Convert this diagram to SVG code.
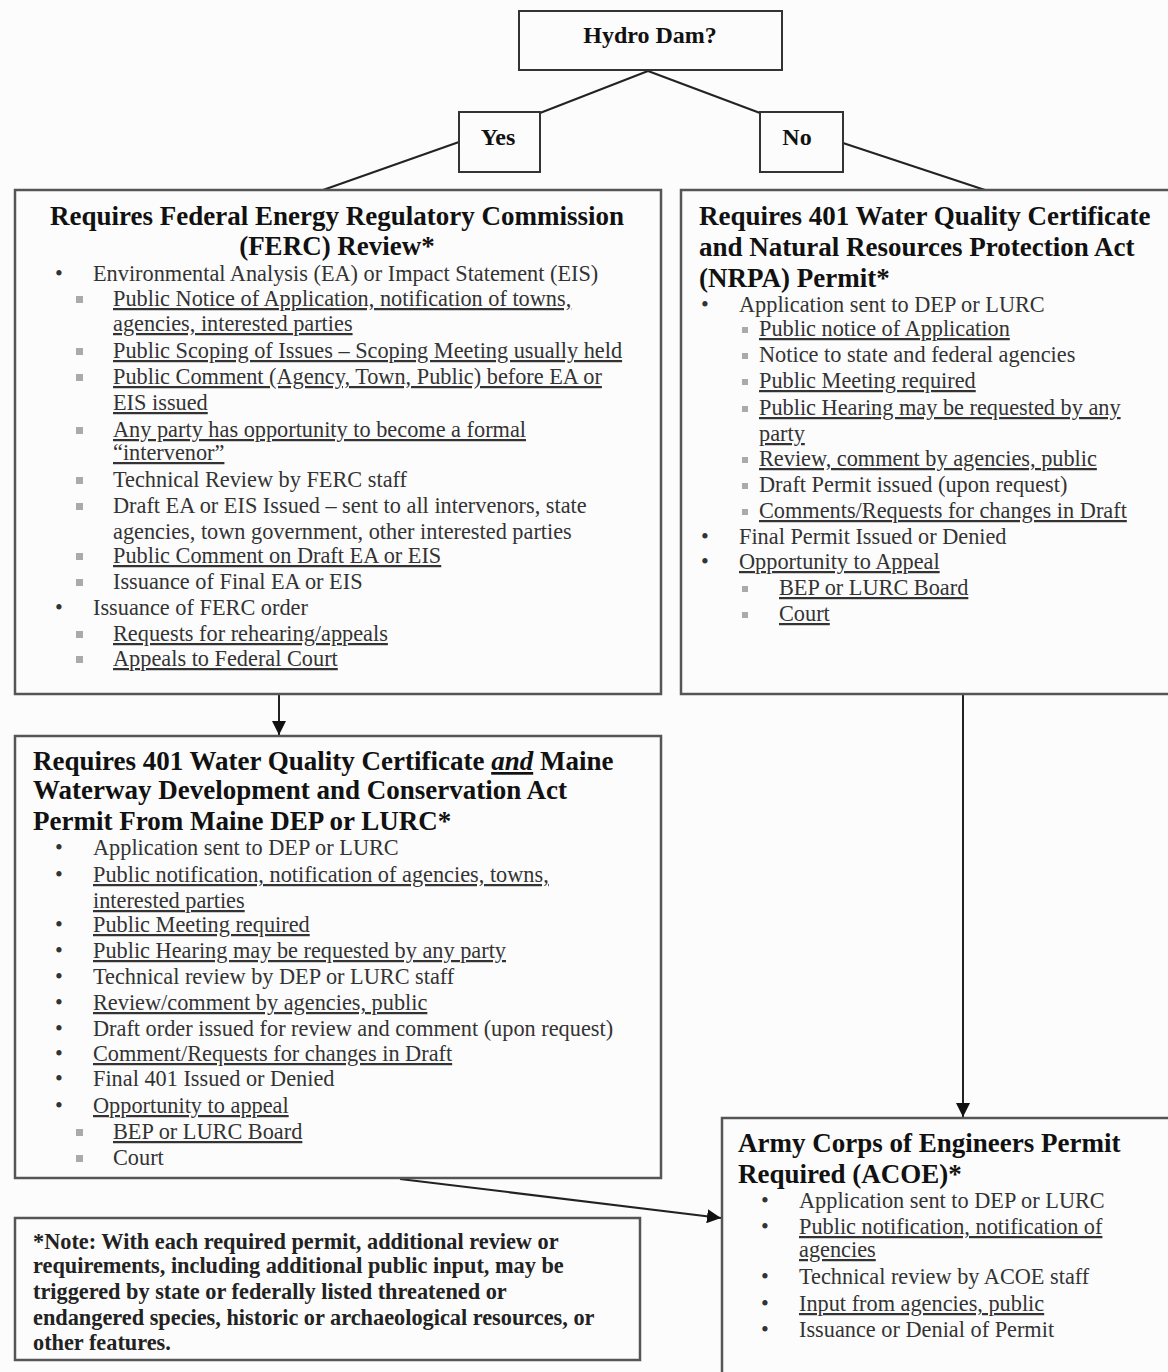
<svg xmlns="http://www.w3.org/2000/svg" width="1168" height="1372" viewBox="0 0 1168 1372">
<style>
.bg{fill:#fcfcfc}
.box{fill:#fcfcfc;stroke:#555;stroke-width:2.5}
.lbl{fill:#fcfcfc;stroke:#333;stroke-width:2}
.ttl{font-family:"Liberation Serif","Times New Roman",serif;font-weight:bold;font-size:27px;fill:#111}
.sm{font-size:24px}
.t{font-family:"Liberation Serif","Times New Roman",serif;font-size:22.3px;fill:#333}
.u{text-decoration:underline}
.note{font-family:"Liberation Serif","Times New Roman",serif;font-weight:bold;font-size:22.3px;fill:#222}
.sq{fill:#aaa}
.con{stroke:#222;stroke-width:2;fill:none}
</style>
<defs>
<marker id="ah2" viewBox="0 0 10 10" refX="10" refY="5" markerWidth="14" markerHeight="14" orient="auto" markerUnits="userSpaceOnUse">
<path d="M0,0 L10,5 L0,10 z" fill="#111"/>
</marker>
</defs>
<rect class="bg" x="0" y="0" width="1168" height="1372"/>

<g id="connectors">
<line class="con" x1="648" y1="71" x2="540" y2="113"/>
<line class="con" x1="648" y1="71" x2="760" y2="113"/>
<line class="con" x1="459" y1="142" x2="323" y2="190"/>
<line class="con" x1="843" y1="143" x2="985" y2="190"/>
<line class="con" x1="279" y1="695" x2="279" y2="735" marker-end="url(#ah2)"/>
<line class="con" x1="963" y1="695" x2="963" y2="1117" marker-end="url(#ah2)"/>
<line class="con" x1="400" y1="1179" x2="721" y2="1218" marker-end="url(#ah2)"/>
</g>

<g id="hydro">
<rect class="lbl" x="519" y="11" width="263" height="59"/>
<text class="ttl sm" x="650" y="43" text-anchor="middle">Hydro Dam?</text>
</g>
<g id="yes">
<rect class="lbl" x="459" y="112" width="81" height="60"/>
<text class="ttl sm" x="498" y="145" text-anchor="middle">Yes</text>
</g>
<g id="no">
<rect class="lbl" x="760" y="112" width="83" height="60"/>
<text class="ttl sm" x="797" y="145" text-anchor="middle">No</text>
</g>

<g id="ferc">
<rect class="box" x="15" y="190" width="646" height="504"/>
<text class="ttl" x="337" y="225" text-anchor="middle">Requires Federal Energy Regulatory Commission</text>
<text class="ttl" x="337" y="255" text-anchor="middle">(FERC) Review*</text>
<text class="t" x="55" y="281">•</text>
<text class="t" x="93" y="281">Environmental Analysis (EA) or Impact Statement (EIS)</text>
<rect class="sq" x="76" y="296" width="7" height="7"/>
<text class="t u" x="113" y="306">Public Notice of Application, notification of towns,</text>
<text class="t u" x="113" y="331">agencies, interested parties</text>
<rect class="sq" x="76" y="348" width="7" height="7"/>
<text class="t u" x="113" y="358">Public Scoping of Issues – Scoping Meeting usually held</text>
<rect class="sq" x="76" y="374" width="7" height="7"/>
<text class="t u" x="113" y="384">Public Comment (Agency, Town, Public) before EA or</text>
<text class="t u" x="113" y="410">EIS issued</text>
<rect class="sq" x="76" y="427" width="7" height="7"/>
<text class="t u" x="113" y="437">Any party has opportunity to become a formal</text>
<text class="t u" x="113" y="460">“intervenor”</text>
<rect class="sq" x="76" y="477" width="7" height="7"/>
<text class="t" x="113" y="487">Technical Review by FERC staff</text>
<rect class="sq" x="76" y="503" width="7" height="7"/>
<text class="t" x="113" y="513">Draft EA or EIS Issued – sent to all intervenors, state</text>
<text class="t" x="113" y="539">agencies, town government, other interested parties</text>
<rect class="sq" x="76" y="553" width="7" height="7"/>
<text class="t u" x="113" y="563">Public Comment on Draft EA or EIS</text>
<rect class="sq" x="76" y="579" width="7" height="7"/>
<text class="t" x="113" y="589">Issuance of Final EA or EIS</text>
<text class="t" x="55" y="615">•</text>
<text class="t" x="93" y="615">Issuance of FERC order</text>
<rect class="sq" x="76" y="631" width="7" height="7"/>
<text class="t u" x="113" y="641">Requests for rehearing/appeals</text>
<rect class="sq" x="76" y="656" width="7" height="7"/>
<text class="t u" x="113" y="666">Appeals to Federal Court</text>
</g>

<g id="nrpa">
<rect class="box" x="681" y="190" width="520" height="504"/>
<text class="ttl" x="699" y="225">Requires 401 Water Quality Certificate</text>
<text class="ttl" x="699" y="256">and Natural Resources Protection Act</text>
<text class="ttl" x="699" y="287">(NRPA) Permit*</text>
<text class="t" x="701" y="312">•</text>
<text class="t" x="739" y="312">Application sent to DEP or LURC</text>
<rect class="sq" x="742" y="327" width="6" height="6"/>
<text class="t u" x="759" y="336">Public notice of Application</text>
<rect class="sq" x="742" y="353" width="6" height="6"/>
<text class="t" x="759" y="362">Notice to state and federal agencies</text>
<rect class="sq" x="742" y="379" width="6" height="6"/>
<text class="t u" x="759" y="388">Public Meeting required</text>
<rect class="sq" x="742" y="406" width="6" height="6"/>
<text class="t u" x="759" y="415">Public Hearing may be requested by any</text>
<text class="t u" x="759" y="441">party</text>
<rect class="sq" x="742" y="457" width="6" height="6"/>
<text class="t u" x="759" y="466">Review, comment by agencies, public</text>
<rect class="sq" x="742" y="483" width="6" height="6"/>
<text class="t" x="759" y="492">Draft Permit issued (upon request)</text>
<rect class="sq" x="742" y="509" width="6" height="6"/>
<text class="t u" x="759" y="518">Comments/Requests for changes in Draft</text>
<text class="t" x="701" y="544">•</text>
<text class="t" x="739" y="544">Final Permit Issued or Denied</text>
<text class="t" x="701" y="569">•</text>
<text class="t u" x="739" y="569">Opportunity to Appeal</text>
<rect class="sq" x="742" y="586" width="6" height="6"/>
<text class="t u" x="779" y="595">BEP or LURC Board</text>
<rect class="sq" x="742" y="612" width="6" height="6"/>
<text class="t u" x="779" y="621">Court</text>
</g>

<g id="maine">
<rect class="box" x="15" y="736" width="646" height="442"/>
<text class="ttl" x="33" y="770">Requires 401 Water Quality Certificate <tspan font-style="italic" text-decoration="underline">and</tspan> Maine</text>
<text class="ttl" x="33" y="799">Waterway Development and Conservation Act</text>
<text class="ttl" x="33" y="830">Permit From Maine DEP or LURC*</text>
<text class="t" x="55" y="855">•</text>
<text class="t" x="93" y="855">Application sent to DEP or LURC</text>
<text class="t" x="55" y="882">•</text>
<text class="t u" x="93" y="882">Public notification, notification of agencies, towns,</text>
<text class="t u" x="93" y="908">interested parties</text>
<text class="t" x="55" y="932">•</text>
<text class="t u" x="93" y="932">Public Meeting required</text>
<text class="t" x="55" y="958">•</text>
<text class="t u" x="93" y="958">Public Hearing may be requested by any party</text>
<text class="t" x="55" y="984">•</text>
<text class="t" x="93" y="984">Technical review by DEP or LURC staff</text>
<text class="t" x="55" y="1010">•</text>
<text class="t u" x="93" y="1010">Review/comment by agencies, public</text>
<text class="t" x="55" y="1036">•</text>
<text class="t" x="93" y="1036">Draft order issued for review and comment (upon request)</text>
<text class="t" x="55" y="1061">•</text>
<text class="t u" x="93" y="1061">Comment/Requests for changes in Draft</text>
<text class="t" x="55" y="1086">•</text>
<text class="t" x="93" y="1086">Final 401 Issued or Denied</text>
<text class="t" x="55" y="1113">•</text>
<text class="t u" x="93" y="1113">Opportunity to appeal</text>
<rect class="sq" x="76" y="1129" width="7" height="7"/>
<text class="t u" x="113" y="1139">BEP or LURC Board</text>
<rect class="sq" x="76" y="1155" width="7" height="7"/>
<text class="t" x="113" y="1165">Court</text>
</g>

<g id="acoe">
<rect class="box" x="722" y="1118" width="480" height="270"/>
<text class="ttl" x="738" y="1152">Army Corps of Engineers Permit</text>
<text class="ttl" x="738" y="1183">Required (ACOE)*</text>
<text class="t" x="761" y="1208">•</text>
<text class="t" x="799" y="1208">Application sent to DEP or LURC</text>
<text class="t" x="761" y="1234">•</text>
<text class="t u" x="799" y="1234">Public notification, notification of</text>
<text class="t u" x="799" y="1257">agencies</text>
<text class="t" x="761" y="1284">•</text>
<text class="t" x="799" y="1284">Technical review by ACOE staff</text>
<text class="t" x="761" y="1311">•</text>
<text class="t u" x="799" y="1311">Input from agencies, public</text>
<text class="t" x="761" y="1337">•</text>
<text class="t" x="799" y="1337">Issuance or Denial of Permit</text>
</g>

<g id="note">
<rect class="box" x="15" y="1218" width="625" height="142"/>
<text class="note" x="33" y="1249">*Note: With each required permit, additional review or</text>
<text class="note" x="33" y="1273">requirements, including additional public input, may be</text>
<text class="note" x="33" y="1299">triggered by state or federally listed threatened or</text>
<text class="note" x="33" y="1325">endangered species, historic or archaeological resources, or</text>
<text class="note" x="33" y="1350">other features.</text>
</g>
</svg>
